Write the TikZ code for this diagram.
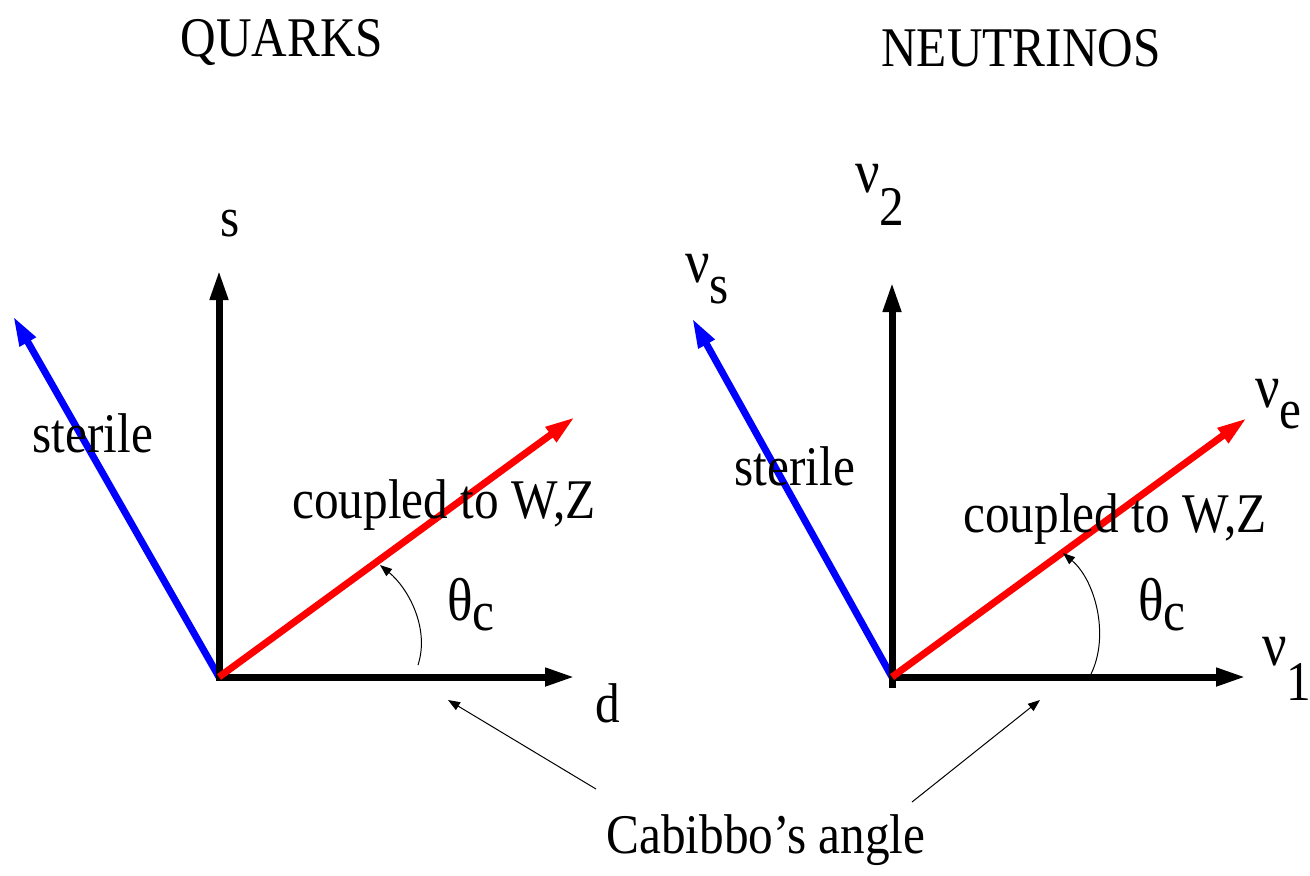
\documentclass[tikz,border=0pt]{standalone}
\usepackage{fontspec}
\setmainfont{Liberation Serif}[FakeStretch=0.88]
\usetikzlibrary{arrows.meta}
\begin{document}
\begin{tikzpicture}[x=0.5pt,y=-0.5pt,
  vec/.style={line width=3.5pt,-{Triangle[length=15pt,width=8.5pt]}},
  note/.style={line width=0.5pt,-{Triangle[length=6pt,width=4.5pt]}},
  lbl/.style={inner sep=0pt,font=\fontsize{28}{32}\selectfont}]
\useasboundingbox (0,0) rectangle (1310,875);
% ---------- left: quarks ----------
\coordinate (oq) at (219,677);
\coordinate (sq) at (219,270);
\coordinate (dq) at (575,677);
\coordinate (wq) at (575,417);
\coordinate (bq) at (13,316);
\draw[vec,blue] (oq) -- (bq);
\draw[vec] (oq) -- (sq);
\draw[vec] ([xshift=-1.75pt]oq) -- (dq);
\draw[vec,red] (oq) -- (wq);
\draw[note] (418,665) .. controls (430,628) and (408,588) .. (380,565);
\node[lbl,anchor=base] (tq) at (282,56) {QUARKS};
\node[lbl,anchor=base] (ls) at (230,236) {s};
\node[lbl,anchor=base] (ld) at (608,722) {d};
\node[lbl,anchor=base] (stq) at (93,452) {sterile};
\node[lbl,anchor=base] (cq) at (444,518) {coupled to W,Z};
\node[lbl,anchor=base west] (thq) at (447,620) {\scalebox{1.08}{θ}\raisebox{-5pt}{c}};
% ---------- right: neutrinos ----------
\coordinate (on) at (892,677);
\coordinate (onb) at (892,688);
\coordinate (n2) at (892,282);
\coordinate (n1) at (1246,677);
\coordinate (ne) at (1247,418);
\coordinate (ns) at (692,318);
\draw[vec,blue] (on) -- (ns);
\draw[vec] (onb) -- (n2);
\draw[vec] ([xshift=-1.75pt]on) -- (n1);
\draw[vec,red] (on) -- (ne);
\draw[note] (1091,674) .. controls (1110,635) and (1095,580) .. (1063,553);
\node[lbl,anchor=base] (tn) at (1021,66) {NEUTRINOS};
\node[lbl,anchor=base west] (l2) at (855,192) {\scalebox{1.1}{ν}\raisebox{-16.5pt}{2}};
\node[lbl,anchor=base west] (lns) at (685,282) {\scalebox{1.1}{ν}\raisebox{-10.5pt}{s}};
\node[lbl,anchor=base west] (lne) at (1255,407) {\scalebox{1.1}{ν}\raisebox{-10.5pt}{e}};
\node[lbl,anchor=base west] (ln1) at (1262,665) {\scalebox{1.1}{ν}\raisebox{-17.5pt}{1}};
\node[lbl,anchor=base] (stn) at (795,485) {sterile};
\node[lbl,anchor=base] (cn) at (1115,532) {coupled to W,Z};
\node[lbl,anchor=base west] (thn) at (1138,620) {\scalebox{1.08}{θ}\raisebox{-5pt}{c}};
% ---------- Cabibbo ----------
\node[lbl,anchor=base] (cab) at (766,853) {Cabibbo’s angle};
\coordinate (ca1) at (596,789);
\coordinate (ca2) at (912,802);
\coordinate (ta1) at (448,700);
\coordinate (ta2) at (1040,700);
\draw[note] (ca1) -- (ta1);
\draw[note] (ca2) -- (ta2);
\end{tikzpicture}
\end{document}
